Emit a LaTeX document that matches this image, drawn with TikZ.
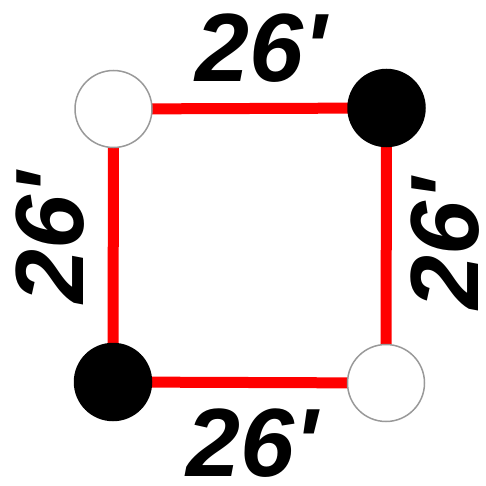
\documentclass[tikz,border=0pt]{standalone}
\usepackage{fontspec}
\newfontfamily\labfont{Liberation Sans}[BoldItalicFont={Liberation Sans Bold Italic}]
\begin{document}
\begin{tikzpicture}[x=1pt,y=-1pt,
  post/.style={circle,minimum size=77pt,inner sep=0pt,line width=1.5pt},
  wpost/.style={post,draw=gray!80,fill=white},
  bpost/.style={post,draw=black,fill=black},
  side/.style={draw=red,line width=11pt},
  dim/.style={font=\labfont\bfseries\itshape\fontsize{97}{97}\selectfont,inner sep=0pt}]
\useasboundingbox (0,0) rectangle (486,486);
\coordinate (c1) at (113.5,109);
\coordinate (c2) at (386.5,108);
\coordinate (c3) at (386,383);
\coordinate (c4) at (113,382);
\draw[side] (c1) -- (c2) -- (c3) -- (c4) -- cycle;
\node[wpost] (tl) at (c1) {};
\node[bpost] (tr) at (c2) {};
\node[wpost] (br) at (c3) {};
\node[bpost] (bl) at (c4) {};
\node[dim] (ltop) at (261,48) {26'};
\node[dim] (lbot) at (252,443) {26'};
\node[dim,rotate=90] (lleft) at (50,238) {26'};
\node[dim,rotate=90] (lright) at (445,244) {26'};
\end{tikzpicture}
\end{document}
